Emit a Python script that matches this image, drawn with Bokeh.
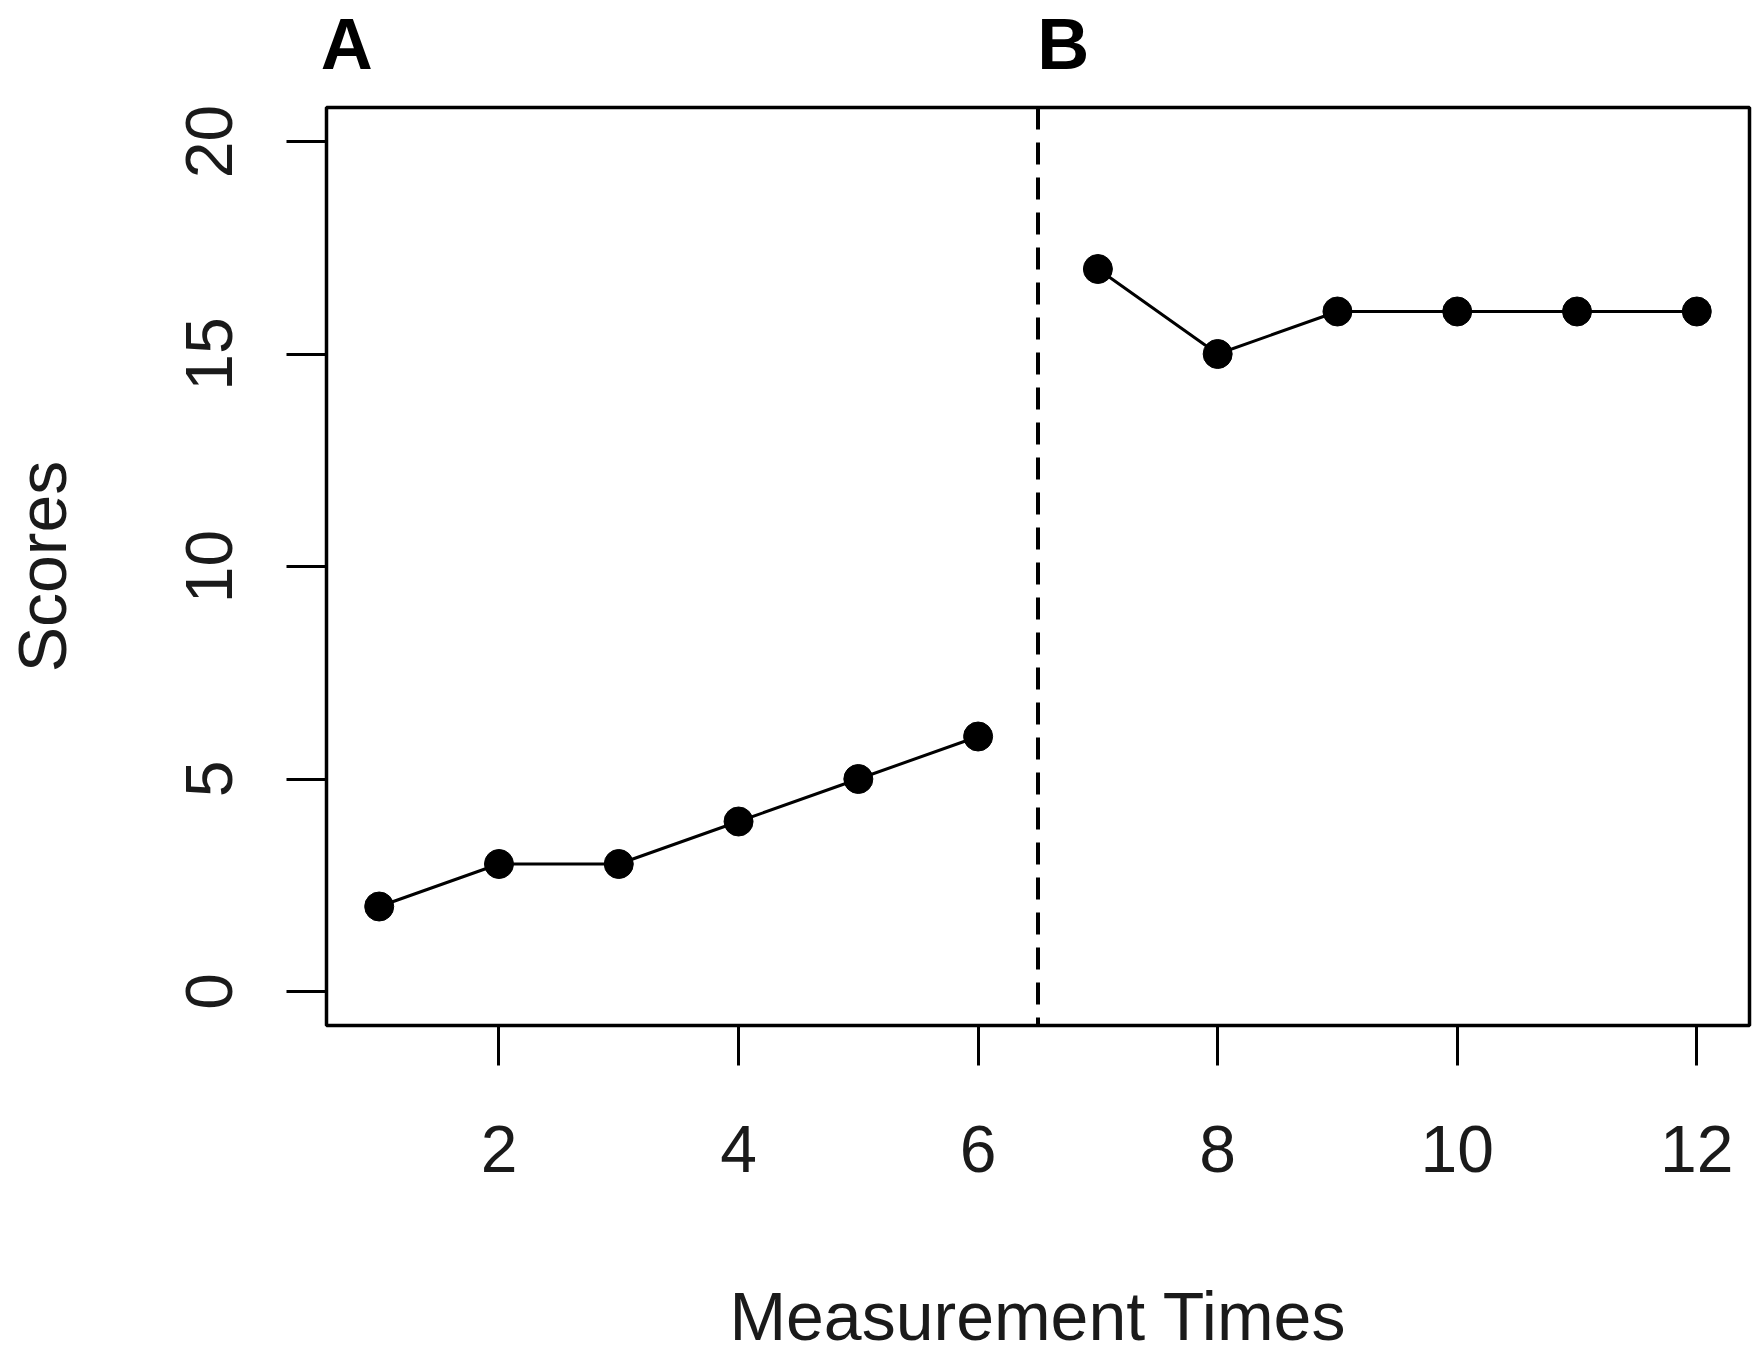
from bokeh.plotting import figure
from bokeh.models import Range1d, FixedTicker, Span, LinearAxis
from bokeh.embed import file_html
from bokeh.resources import INLINE

# Data
phase_names = ["A", "B"]
times_a = [1, 2, 3, 4, 5, 6]
scores_a = [2, 3, 3, 4, 5, 6]
times_b = [7, 8, 9, 10, 11, 12]
scores_b = [17, 15, 16, 16, 16, 16]
phase_change = 6.5
x_ticks = [2, 4, 6, 8, 10, 12]
y_ticks = [0, 5, 10, 15, 20]

FONT = "Liberation Sans"
TXT = "#1a1a1a"

all_x = times_a + times_b
all_y = scores_a + scores_b + [0, 20]
xpad = (max(all_x) - min(all_x)) * 0.04
ypad = (max(all_y) - min(all_y)) * 0.04

p = figure(
    output_backend="svg", toolbar_location=None,
    frame_width=1423, frame_height=918,
    min_border_left=323, min_border_top=107, min_border_right=6, min_border_bottom=325,
    x_range=Range1d(min(all_x) - xpad, max(all_x) + xpad),
    y_range=Range1d(min(all_y) - ypad, max(all_y) + ypad),
    x_axis_label="Measurement Times", y_axis_label="Scores",
)
p.background_fill_color = "white"
p.border_fill_color = "white"
p.grid.visible = False
p.outline_line_color = "black"
p.outline_line_width = 3.5

p.xaxis.ticker = FixedTicker(ticks=x_ticks)
p.yaxis.ticker = FixedTicker(ticks=y_ticks)
for ax in (p.xaxis[0], p.yaxis[0]):
    ax.axis_line_color = None
    ax.major_tick_out = 40
    ax.major_tick_in = 0
    ax.minor_tick_line_color = None
    ax.major_tick_line_width = 3
    ax.major_tick_line_color = "black"
    ax.major_label_text_font = FONT
    ax.major_label_text_font_size = "66px"
    ax.major_label_text_color = TXT
    ax.axis_label_text_font = FONT
    ax.axis_label_text_font_size = "68px"
    ax.axis_label_text_font_style = "normal"
    ax.axis_label_text_color = TXT

p.yaxis.major_label_orientation = "vertical"
p.xaxis.major_label_standoff = 60
p.yaxis.major_label_standoff = 55
p.xaxis.axis_label_standoff = 103
p.yaxis.axis_label_standoff = 103

# phase labels (A, B) on a tick-less axis above the frame
label_x = [p.x_range.start + 0.17, phase_change + 0.21]
phase_axis = LinearAxis(
    ticker=FixedTicker(ticks=label_x),
    major_label_overrides={lx: name for lx, name in zip(label_x, phase_names)},
)
phase_axis.axis_line_color = None
phase_axis.major_tick_line_color = None
phase_axis.minor_tick_line_color = None
phase_axis.major_tick_out = 0
phase_axis.major_tick_in = 0
phase_axis.major_label_standoff = 24
phase_axis.major_label_text_font = FONT
phase_axis.major_label_text_font_size = "72px"
phase_axis.major_label_text_font_style = "bold"
phase_axis.major_label_text_color = "black"
p.add_layout(phase_axis, "above")

p.add_layout(Span(location=phase_change, dimension="height", line_color="black",
                  line_width=4, line_dash="22 13"))

p.line(times_a, scores_a, line_color="black", line_width=3)
p.line(times_b, scores_b, line_color="black", line_width=3)
p.scatter(times_a, scores_a, size=29, marker="circle", fill_color="black", line_color="black")
p.scatter(times_b, scores_b, size=29, marker="circle", fill_color="black", line_color="black")

open("out.html", "w").write(file_html(p, INLINE))
